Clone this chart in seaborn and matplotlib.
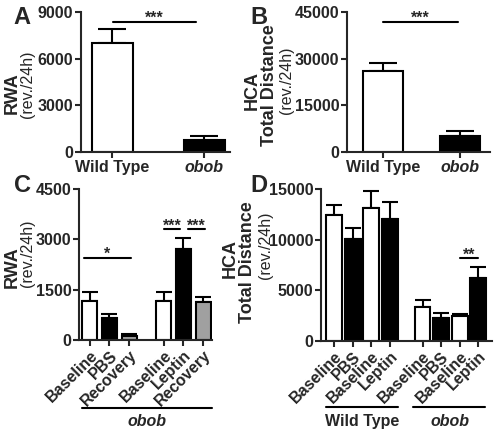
import matplotlib
matplotlib.use('Agg')
import matplotlib.pyplot as plt
import numpy as np
import pandas as pd
import seaborn as sns

# panel A / B : wild type vs obob
groups_ab = ['Wild Type', 'obob']
rwa_ab = [7000, 770]
rwa_ab_sem = [900, 260]
hca_ab = [26000, 5100]
hca_ab_sem = [2600, 1650]

# panel C : obob, PBS then leptin
labels_c = ['Baseline', 'PBS', 'Recovery', 'Baseline', 'Leptin', 'Recovery']
kind_c = ['base', 'treat', 'recov', 'base', 'treat', 'recov']
group_c = [0, 0, 0, 1, 1, 1]
rwa_c = [1150, 650, 130, 1150, 2700, 1120]
rwa_c_sem = [270, 120, 40, 270, 330, 150]

# panel D : wild type and obob, PBS / leptin
labels_d = ['Baseline', 'PBS', 'Baseline', 'Leptin'] * 2
kind_d = ['base', 'treat', 'base', 'treat'] * 2
group_d = [0, 0, 0, 0, 1, 1, 1, 1]
hca_d = [12450, 10100, 13150, 12050, 3330, 2250, 2450, 6180]
hca_d_sem = [980, 1080, 1650, 1670, 690, 490, 200, 1080]

sns.set_style('ticks')
plt.rcParams['font.family'] = ['Liberation Sans', 'DejaVu Sans']
plt.rcParams['font.weight'] = 'bold'

colors = {'base': 'white', 'treat': 'black', 'recov': '#a0a0a0'}
W, H = 498, 434
fig = plt.figure(figsize=(W / 100, H / 100), dpi=100)


def axes_px(left, right, top, bottom):
    return fig.add_axes([left / W, 1 - bottom / H, (right - left) / W, (bottom - top) / H])


def style(ax):
    sns.despine(ax=ax)
    for s in ['left', 'bottom']:
        ax.spines[s].set_linewidth(1.5)
    ax.tick_params(width=1.5, length=4, labelsize=11.5, pad=1.5)
    for lab in ax.get_yticklabels() + ax.get_xticklabels():
        lab.set_fontweight('bold')
    ax.set_xlabel('')
    ax.set_ylabel('')


def errbars(ax, x, y, e, cap):
    ax.errorbar(x, y, yerr=[np.zeros(len(y)), e], fmt='none', ecolor='black',
                elinewidth=1.5, capsize=cap, capthick=1.5, zorder=1)


def sig(ax, x0, x1, y, txt):
    ax.plot([x0, x1], [y, y], color='black', lw=1.5, clip_on=False)
    ax.annotate(txt, ((x0 + x1) / 2, y), xytext=(0, -3), textcoords='offset points',
                ha='center', va='bottom', fontsize=11.5, fontweight='bold')


def vtext(x, y, s, size, weight):
    fig.text(x / W, 1 - y / H, s, rotation=90, ha='center', va='center',
             fontsize=size, fontweight=weight)


# ---- A ----
axA = axes_px(81, 230, 12, 152)
sns.barplot(x=groups_ab, y=rwa_ab, hue=groups_ab, palette=['white', 'black'],
            edgecolor='black', linewidth=1.5, width=0.45, errorbar=None,
            legend=False, ax=axA, zorder=2)
errbars(axA, [0, 1], rwa_ab, rwa_ab_sem, 10)
axA.set_xlim(-0.34, 1.28)
axA.set_ylim(0, 9000)
axA.set_yticks([0, 3000, 6000, 9000])
style(axA)
axA.get_xticklabels()[1].set_fontstyle('italic')
sig(axA, 0.01, 0.91, 8350, '***')

# ---- B ----
axB = axes_px(347, 490, 12, 152)
sns.barplot(x=groups_ab, y=hca_ab, hue=groups_ab, palette=['white', 'black'],
            edgecolor='black', linewidth=1.5, width=0.52, errorbar=None,
            legend=False, ax=axB, zorder=2)
errbars(axB, [0, 1], hca_ab, hca_ab_sem, 10)
axB.set_xlim(-0.47, 1.39)
axB.set_ylim(0, 45000)
axB.set_yticks([0, 15000, 30000, 45000])
style(axB)
axB.get_xticklabels()[1].set_fontstyle('italic')
sig(axB, 0.0, 0.97, 41800, '***')

# ---- C ----
axC = axes_px(79, 212, 189, 340)
df_c = pd.DataFrame({'pos': np.arange(6) + 0.75 * np.array(group_c),
                     'val': rwa_c, 'kind': kind_c})
sns.barplot(data=df_c, x='pos', y='val', hue='kind', palette=colors,
            native_scale=True, dodge=False, edgecolor='black', linewidth=1.5,
            width=0.77, errorbar=None, legend=False, ax=axC, zorder=2)
errbars(axC, df_c['pos'], rwa_c, rwa_c_sem, 6)
axC.set_xlim(-0.54, 6.2)
axC.set_ylim(0, 4500)
axC.set_yticks([0, 1500, 3000, 4500])
axC.set_xticks(df_c['pos'])
axC.set_xticklabels(labels_c, rotation=45, ha='right', rotation_mode='anchor')
style(axC)
sig(axC, -0.3, 2.1, 2450, '*')
sig(axC, 3.75, 4.6, 3300, '***')
sig(axC, 5.0, 5.85, 3300, '***')
tr = axC.get_xaxis_transform()
axC.plot([-0.4, 6.2], [-0.45, -0.45], color='black', lw=1.5, transform=tr, clip_on=False)
axC.text(2.9, -0.54, 'obob', transform=tr, ha='center', va='center', fontsize=11.5,
         fontweight='bold', fontstyle='italic')

# ---- D ----
axD = axes_px(321, 492, 189, 341)
df_d = pd.DataFrame({'pos': np.arange(8) + 0.75 * np.array(group_d),
                     'val': hca_d, 'kind': kind_d})
sns.barplot(data=df_d, x='pos', y='val', hue='kind', palette=colors,
            native_scale=True, dodge=False, edgecolor='black', linewidth=1.5,
            width=0.85, errorbar=None, legend=False, ax=axD, zorder=2)
errbars(axD, df_d['pos'], hca_d, hca_d_sem, 6)
axD.set_xlim(-0.7, 8.48)
axD.set_ylim(0, 15000)
axD.set_yticks([0, 5000, 10000, 15000])
axD.set_xticks(df_d['pos'])
axD.set_xticklabels(labels_d, rotation=45, ha='right', rotation_mode='anchor')
style(axD)
sig(axD, 6.75, 7.75, 8150, '**')
tr = axD.get_xaxis_transform()
axD.plot([-0.45, 3.45], [-0.434, -0.434], color='black', lw=1.5, transform=tr, clip_on=False)
axD.plot([4.25, 8.1], [-0.434, -0.434], color='black', lw=1.5, transform=tr, clip_on=False)
axD.text(1.5, -0.53, 'Wild Type', transform=tr, ha='center', va='center', fontsize=11.5,
         fontweight='bold')
axD.text(6.2, -0.53, 'obob', transform=tr, ha='center', va='center', fontsize=11.5,
         fontweight='bold', fontstyle='italic')

# ---- axis titles ----
vtext(12, 93, 'RWA', 13, 'bold')
vtext(27, 84, '(rev./24h)', 11.5, 'normal')
vtext(12, 267, 'RWA', 13, 'bold')
vtext(27, 253, '(rev./24h)', 11.5, 'normal')
vtext(252, 91, 'HCA', 13, 'bold')
vtext(270, 85, 'Total Distance', 13, 'bold')
vtext(286, 80, '(rev./24h)', 11.5, 'normal')
vtext(230, 258, 'HCA', 13, 'bold')
vtext(247, 262, 'Total Distance', 13, 'bold')
vtext(265, 245, '(rev./24h)', 11.5, 'normal')

# ---- panel letters ----
for letter, x, y in [('A', 22, 17), ('B', 259, 17), ('C', 22, 186), ('D', 259, 186)]:
    fig.text(x / W, 1 - y / H, letter, ha='center', va='center', fontsize=17,
             fontweight='bold')

fig.savefig('out.png', dpi=100)
